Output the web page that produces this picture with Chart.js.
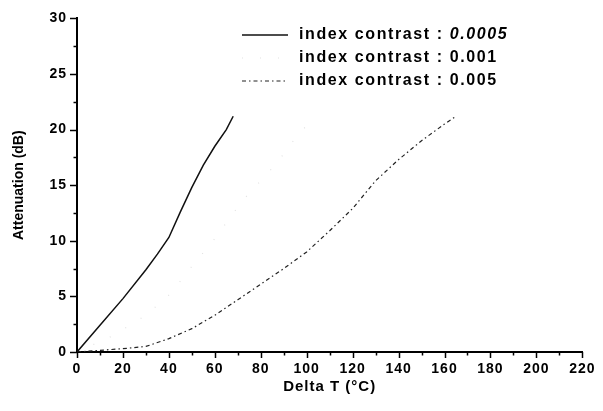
<!DOCTYPE html>
<html><head><meta charset="utf-8">
<script src="https://cdn.jsdelivr.net/npm/chart.js@4/dist/chart.umd.min.js"></script>
<style>html,body{margin:0;padding:0;background:#fff;}canvas{display:block;}</style>
</head><body>
<canvas id="c" width="603" height="411"></canvas>
<script>
// ---- data ----
const seriesPrefix = 'index contrast : ';
const seriesValues = ['0.0005', '0.001', '0.005'];

const xA = [0, 10, 20, 30, 35, 40, 45, 50, 55, 60, 65, 68];
const yA = [0, 2.4, 4.8, 7.4, 8.8, 10.3, 12.6, 14.8, 16.8, 18.5, 20.0, 21.2];

const xB = [0, 16, 30, 41, 48, 60, 72, 80, 88, 91, 98, 103];
const yB = [0, 1.5, 3.3, 5.3, 7.2, 10.2, 13.6, 15.4, 17.2, 18.2, 19.9, 21.1];

const xC = [0, 10, 20, 30, 40, 50, 60, 70, 80, 90, 100, 110, 120, 130, 140, 150, 160, 165];
const yC = [0, 0.15, 0.3, 0.5, 1.2, 2.1, 3.3, 4.7, 6.1, 7.5, 9.0, 10.9, 12.9, 15.4, 17.3, 19.0, 20.5, 21.2];

const xTicks = [0, 20, 40, 60, 80, 100, 120, 140, 160, 180, 200, 220];
const yTicks = [0, 5, 10, 15, 20, 25, 30];
const xTitle = 'Delta T (°C)';
const yTitle = 'Attenuation (dB)';

const pts = (xs, ys) => xs.map((x, i) => ({x: x, y: ys[i]}));

const FAM = "'Liberation Sans', Arial, Helvetica, sans-serif";
Chart.defaults.font.family = FAM;
Chart.defaults.color = '#000';

const styles = [
  {borderColor: '#111', borderWidth: 1.5, borderDash: []},
  {borderColor: '#e2e2e2', borderWidth: 1.2, borderDash: [1, 17]},
  {borderColor: '#222', borderWidth: 1.2, borderDash: [4, 3, 1.5, 3]}
];

const data = [pts(xA, yA), pts(xB, yB), pts(xC, yC)];

const spacing = {
  id: 'spacing',
  beforeInit(chart) { if ('letterSpacing' in chart.ctx) chart.ctx.letterSpacing = '1px'; },
  beforeDraw(chart) { if ('letterSpacing' in chart.ctx) chart.ctx.letterSpacing = '1px'; }
};

const minorTicks = {
  id: 'minorTicks',
  afterDraw(chart) {
    const {ctx} = chart;
    const xs = chart.scales.x, ys = chart.scales.y;
    const ca = chart.chartArea;
    ctx.save();
    ctx.strokeStyle = '#000';
    ctx.lineWidth = 1.5;
    for (let v = xs.min; v <= xs.max + 1e-9; v += 10) {
      const px = Math.round(xs.getPixelForValue(v)) + 0.5;
      const major = Math.abs(v % 20) < 1e-9;
      ctx.beginPath();
      ctx.moveTo(px, ca.bottom);
      ctx.lineTo(px, ca.bottom + (major ? 6 : 3.5));
      ctx.stroke();
    }
    for (let v = ys.min; v <= ys.max + 1e-9; v += 2.5) {
      const py = Math.round(ys.getPixelForValue(v)) + 0.5;
      const major = Math.abs(v % 5) < 1e-9;
      ctx.beginPath();
      ctx.moveTo(ca.left, py);
      ctx.lineTo(ca.left - (major ? 7 : 3.5), py);
      ctx.stroke();
    }
    // y axis title (rotated, no extra spacing)
    if ('letterSpacing' in ctx) ctx.letterSpacing = '0px';
    ctx.translate(19, (ca.top + ca.bottom) / 2);
    ctx.rotate(-Math.PI / 2);
    ctx.font = 'bold 14px ' + FAM;
    ctx.fillStyle = '#000';
    ctx.textAlign = 'center';
    ctx.textBaseline = 'middle';
    ctx.fillText(yTitle, 0, 0);
    ctx.restore();
  }
};

const customLegend = {
  id: 'customLegend',
  afterDraw(chart) {
    const {ctx} = chart;
    const x0 = 242, x1 = 288, tx = 299;
    const rowY = [35, 58, 81];
    ctx.save();
    chart.data.datasets.forEach((ds, i) => {
      const y = rowY[i];
      ctx.beginPath();
      ctx.setLineDash(ds.borderDash || []);
      ctx.strokeStyle = ds.borderColor;
      ctx.lineWidth = ds.borderWidth;
      ctx.moveTo(x0, y);
      ctx.lineTo(x1, y);
      ctx.stroke();
      ctx.setLineDash([]);
      ctx.fillStyle = '#000';
      ctx.textBaseline = 'middle';
      ctx.textAlign = 'left';
      if ('letterSpacing' in ctx) ctx.letterSpacing = '1.6px';
      const parts = ds.label.split(' : ');
      ctx.font = 'bold 16px ' + FAM;
      const first = parts[0] + ' : ';
      ctx.fillText(first, tx, y);
      const w = ctx.measureText(first).width;
      ctx.font = (i === 0 ? 'italic ' : '') + 'bold 16px ' + FAM;
      ctx.fillText(parts[1], tx + w, y);
    });
    ctx.restore();
  }
};

new Chart(document.getElementById('c'), {
  type: 'scatter',
  data: {
    datasets: data.map((d, i) => Object.assign({
      label: seriesPrefix + seriesValues[i],
      data: d,
      showLine: true,
      pointRadius: 0,
      pointHoverRadius: 0,
      fill: false,
      tension: 0
    }, styles[i]))
  },
  options: {
    responsive: false,
    animation: false,
    devicePixelRatio: 1,
    layout: {padding: {top: 16, right: 12, left: 0, bottom: 0}},
    plugins: {legend: {display: false}, tooltip: {enabled: false}},
    scales: {
      x: {
        type: 'linear', min: 0, max: 220,
        afterBuildTicks: s => { s.ticks = xTicks.map(v => ({value: v})); },
        afterFit: s => { s.height = 59; },
        grid: {display: false, drawTicks: false},
        border: {display: true, color: '#000', width: 2},
        ticks: {padding: 9, font: {size: 14, weight: 'bold'}, color: '#000', maxRotation: 0},
        title: {display: true, text: xTitle, font: {size: 15, weight: 'bold'}, color: '#000', padding: {top: 0, bottom: 15}}
      },
      y: {
        type: 'linear', min: 0, max: 30,
        afterBuildTicks: s => { s.ticks = yTicks.map(v => ({value: v})); },
        afterFit: s => { s.width = 77; },
        grid: {display: false, drawTicks: false},
        border: {display: true, color: '#000', width: 2},
        ticks: {padding: 10, font: {size: 14, weight: 'bold'}, color: '#000'},
        title: {display: false}
      }
    }
  },
  plugins: [spacing, minorTicks, customLegend]
});
</script>
</body></html>
